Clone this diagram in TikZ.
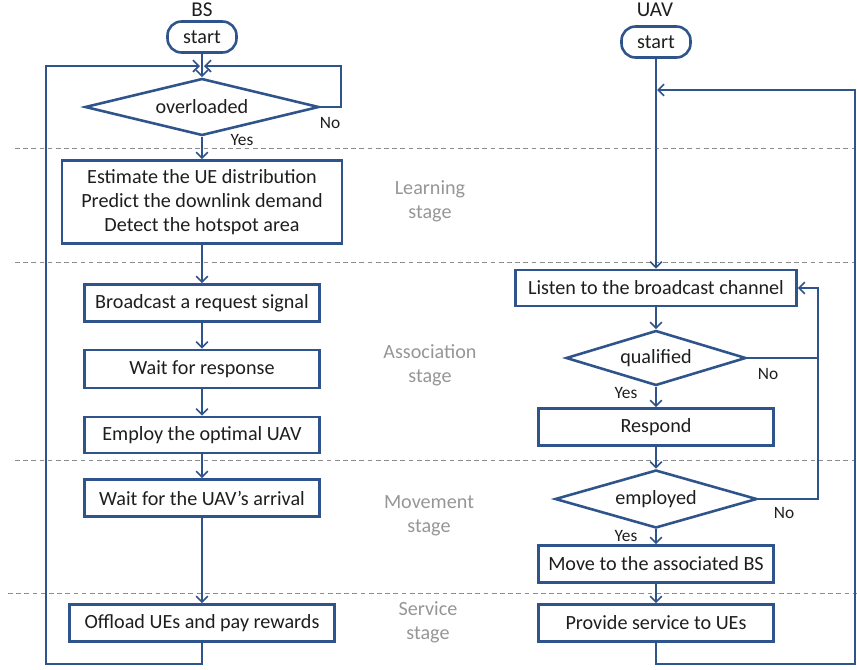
\documentclass[tikz,border=0pt]{standalone}
\usepackage{fontspec}
\setmainfont{Carlito}
\usetikzlibrary{shapes.geometric,arrows.meta}
\definecolor{fb}{RGB}{47,84,139}
\definecolor{tx}{RGB}{30,30,30}
\definecolor{sg}{RGB}{150,150,150}
\definecolor{dl}{RGB}{140,140,140}
\begin{document}
\begin{tikzpicture}[x=0.03cm,y=-0.03cm,
  font=\fontsize{17.2}{20.4}\selectfont, text=tx,
  box/.style={draw=fb, line width=2.2pt, fill=white, rectangle, inner sep=0pt, align=center},
  term/.style={draw=fb, line width=2.2pt, fill=white, rectangle, rounded corners=12pt, inner sep=0pt, minimum width=2.07cm, minimum height=0.93cm},
  dec/.style={draw=fb, line width=2.2pt, fill=white, diamond, inner sep=0pt},
  conn/.style={draw=fb, line width=1.4pt},
  arr/.style={conn, -{Straight Barb[length=5pt,width=10pt,line width=1.4pt]}},
  stage/.style={text=sg, align=center},
  yn/.style={font=\fontsize{14.8}{16}\selectfont},
  head/.style={font=\fontsize{18}{20}\selectfont},
  sep/.style={draw=dl, line width=0.7pt, dash pattern=on 4pt off 3pt}]
\useasboundingbox (0,0) rectangle (857,670);

% stage separators
\coordinate (s1a) at (15,148); \coordinate (s1b) at (857,148);
\coordinate (s2a) at (15,262); \coordinate (s2b) at (857,262);
\coordinate (s3a) at (15,460); \coordinate (s3b) at (857,460);
\coordinate (s4a) at (8,593);  \coordinate (s4b) at (857,593);
\draw[sep] (s1a) -- (s1b);
\draw[sep] (s2a) -- (s2b);
\draw[sep] (s3a) -- (s3b);
\draw[sep] (s4a) -- (s4b);

% headings
\node[head] (bsh) at (202,10) {BS};
\node[head] (uavh) at (655,10) {UAV};

% stage labels
\node[stage] (lst) at (430,201) {Learning\\stage};
\node[stage] (ast) at (430,365) {Association\\stage};
\node[stage] (mst) at (429,516) {Movement\\stage};
\node[stage] (sst) at (428,622) {Service\\stage};

% BS column
\node[term] (bss) at (202,37) {start};
\node[dec, aspect=4.1, minimum width=7.02cm, minimum height=1.71cm] (ovl) at (202,107) {overloaded};
\node[box, minimum width=8.4cm, minimum height=2.49cm] (learn) at (202,202) {Estimate the UE distribution\\Predict the downlink demand\\Detect the hotspot area};
\node[box, minimum width=7.05cm, minimum height=1.11cm] (bcast) at (202,303) {Broadcast a request signal};
\node[box, minimum width=7.05cm, minimum height=1.14cm] (wresp) at (202,369) {Wait for response};
\node[box, minimum width=7.05cm, minimum height=1.08cm] (empl) at (202,435) {Employ the optimal UAV};
\node[box, minimum width=7.05cm, minimum height=1.11cm] (warr) at (202,498) {Wait for the UAV’s arrival};
\node[box, minimum width=7.95cm, minimum height=1.11cm] (off) at (202,623) {Offload UEs and pay rewards};

\coordinate (bsjl) at (200,66);
\coordinate (bsjr) at (204,66);
\coordinate (nr1) at (341,107);
\coordinate (nr2) at (341,66);
\coordinate (bl1) at (202,664);
\coordinate (bl2) at (46,664);
\coordinate (bl3) at (46,66);

\draw[arr] (bss) -- (ovl);
\draw[arr] (ovl.east) -- (nr1) -- (nr2) -- (bsjr);
\draw[arr] (off) -- (bl1) -- (bl2) -- (bl3) -- (bsjl);
\draw[arr] (ovl) -- (learn);
\draw[arr] (learn) -- (bcast);
\draw[arr] (bcast) -- (wresp);
\draw[arr] (wresp) -- (empl);
\draw[arr] (empl) -- (warr);
\draw[arr] (warr) -- (off);

\node[yn] (no1) at (330,123) {No};
\node[yn] (yes1) at (242,140) {Yes};

% UAV column
\node[term] (us) at (656,42) {start};
\node[box, minimum width=8.43cm, minimum height=1.08cm] (listen) at (656,288) {Listen to the broadcast channel};
\node[dec, aspect=3.27, minimum width=5.4cm, minimum height=1.65cm] (qual) at (656,358) {qualified};
\node[box, minimum width=7.05cm, minimum height=1.11cm] (resp) at (656,427) {Respond};
\node[dec, aspect=3.48, minimum width=6.06cm, minimum height=1.74cm] (emp) at (656,499) {employed};
\node[box, minimum width=7.05cm, minimum height=1.11cm] (move) at (656,564) {Move to the associated BS};
\node[box, minimum width=7.05cm, minimum height=1.11cm] (prov) at (656,623) {Provide service to UEs};

\coordinate (q1) at (818,358);
\coordinate (q2) at (818,288);
\coordinate (e1) at (818,499);
\coordinate (ur1) at (656,664);
\coordinate (ur2) at (855,664);
\coordinate (ur3) at (855,90);
\coordinate (ur4) at (657,90);

\draw[arr] (us) -- (listen);
\draw[arr] (listen) -- (qual);
\draw[arr] (qual) -- (resp);
\draw[arr] (resp) -- (emp);
\draw[arr] (emp) -- (move);
\draw[arr] (move) -- (prov);
\draw[arr] (qual.east) -- (q1) -- (q2) -- (listen.east);
\draw[conn] (emp.east) -- (e1) -- (q1);
\draw[arr] (prov) -- (ur1) -- (ur2) -- (ur3) -- (ur4);

\node[yn] (no2) at (768,374) {No};
\node[yn] (yes2) at (626,393) {Yes};
\node[yn] (no3) at (784,513) {No};
\node[yn] (yes3) at (626,536) {Yes};
\end{tikzpicture}
\end{document}
